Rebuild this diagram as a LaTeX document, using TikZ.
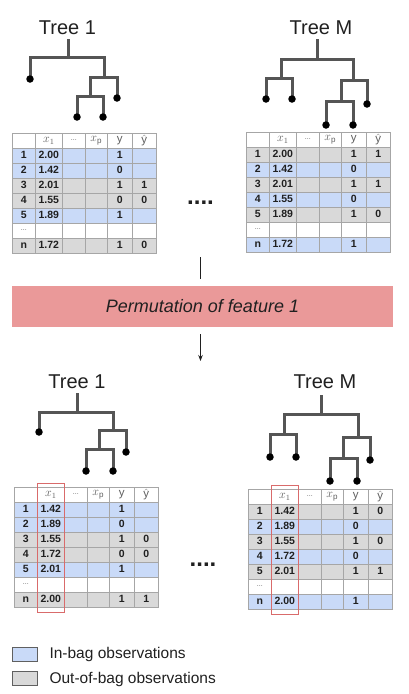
\documentclass[tikz,border=0pt]{standalone}
\usepackage{fontspec}
\setmainfont{Liberation Sans}
\usetikzlibrary{arrows.meta}
\definecolor{bluec}{HTML}{C9DAF8}
\definecolor{grayc}{HTML}{D9D9D9}
\definecolor{gridc}{HTML}{A6A6A6}
\definecolor{hdrc}{HTML}{606060}
\definecolor{treec}{HTML}{555555}
\definecolor{permc}{HTML}{EA9999}
\definecolor{redc}{HTML}{D96B6B}
\definecolor{txtc}{HTML}{202020}
\newcommand{\smdots}{{\mdseries\color{hdrc}\fontsize{7}{7}\selectfont ...}}
\tikzset{
  cell/.style={draw=gridc, line width=0.6pt, inner sep=0pt, anchor=north west,
    minimum height=15pt, font=\fontsize{10.5}{12}\selectfont\bfseries, text=txtc},
  hcell/.style={cell, minimum height=14.5pt, fill=white,
    font=\fontsize{11.5}{12}\selectfont, text=hdrc},
  treeline/.style={draw=treec, line width=3pt},
  leaf/.style={circle, fill=black, inner sep=0pt, minimum size=7.5pt},
  treetitle/.style={font=\fontsize{20}{24}\selectfont, text=txtc, anchor=base},
  bigdots/.style={font=\fontsize{24}{24}\selectfont\bfseries, text=txtc, anchor=base},
  redbox/.style={draw=redc, line width=0.9pt},
  legbox/.style={draw=hdrc, line width=0.8pt, minimum width=25pt, minimum height=14pt, inner sep=0pt},
  legtext/.style={anchor=base west, font=\fontsize{15.5}{18}\selectfont, text=txtc},
  conn/.style={draw=txtc, line width=0.8pt}
}
\newcommand{\obstable}[4]{%
  \begin{scope}[shift={(#2,#3)}]
    \node[hcell, minimum width=23pt] (#1-h-1) at (0,0) {};
    \node[hcell, minimum width=27pt] (#1-h-2) at (23,0) {$x_1$};
    \node[hcell, minimum width=23pt] (#1-h-3) at (50,0) {\smdots};
    \node[hcell, minimum width=22pt] (#1-h-4) at (73,0) {$x_{\mathrm{p}}$};
    \node[hcell, minimum width=25pt] (#1-h-5) at (95,0) {$\mathrm{y}$};
    \node[hcell, minimum width=24pt] (#1-h-6) at (120,0) {$\hat{\mathrm{y}}$};
    \foreach \rc/\ri/\xv/\yv/\yh [count=\r] in {#4} {
      \pgfmathsetmacro{\ty}{14.5+(\r-1)*15}
      \node[cell, fill=\rc, minimum width=23pt] (#1-\r-1) at (0,\ty) {\ri};
      \node[cell, fill=\rc, minimum width=27pt] (#1-\r-2) at (23,\ty) {\xv};
      \node[cell, fill=\rc, minimum width=23pt] (#1-\r-3) at (50,\ty) {};
      \node[cell, fill=\rc, minimum width=22pt] (#1-\r-4) at (73,\ty) {};
      \node[cell, fill=\rc, minimum width=25pt] (#1-\r-5) at (95,\ty) {\yv};
      \node[cell, fill=\rc, minimum width=24pt] (#1-\r-6) at (120,\ty) {\yh};
    }
  \end{scope}}
\begin{document}
\begin{tikzpicture}[x=1pt,y=-1pt]
\useasboundingbox (0,0) rectangle (408,694);

% ---------- titles ----------
\node[treetitle] (t1) at (67.5,34) {Tree 1};
\node[treetitle] (tM) at (321,34) {Tree M};
\node[treetitle] (b1) at (77,388) {Tree 1};
\node[treetitle] (bM) at (325,388) {Tree M};

% ---------- tree a (top left) ----------
\coordinate (ar) at (68,39); \coordinate (as) at (68,57);
\coordinate (an1) at (104,77); \coordinate (an2) at (90,96);
\coordinate (aA) at (30,79); \coordinate (aB) at (117,98);
\coordinate (aC) at (77,117); \coordinate (aD) at (103,117);
\draw[treeline] (ar) -- (as);
\draw[treeline] (aA) |- (an1 |- as) -- (an1);
\draw[treeline] (an2) |- (aB |- an1) -- (aB);
\draw[treeline] (aC) |- (aD |- an2) -- (aD);
\foreach \p in {aA,aB,aC,aD} \node[leaf] (\p-dot) at (\p) {};

% ---------- tree b (top right) ----------
\coordinate (br) at (317,39); \coordinate (bs) at (317,59);
\coordinate (bn1) at (281,78); \coordinate (bn2) at (353,80); \coordinate (bn3) at (341,101);
\coordinate (bA) at (266,99); \coordinate (bB) at (292,99); \coordinate (bC) at (367,104);
\coordinate (bD) at (326,125); \coordinate (bE) at (353,125);
\draw[treeline] (br) -- (bs);
\draw[treeline] (bn1) |- (bn2 |- bs) -- (bn2);
\draw[treeline] (bA) |- (bB |- bn1) -- (bB);
\draw[treeline] (bn3) |- (bC |- bn2) -- (bC);
\draw[treeline] (bD) |- (bE |- bn3) -- (bE);
\foreach \p in {bA,bB,bC,bD,bE} \node[leaf] (\p-dot) at (\p) {};

% ---------- tree c (bottom left) ----------
\coordinate (cr) at (77,393); \coordinate (cs) at (77,412);
\coordinate (cn1) at (113,430); \coordinate (cn2) at (99,449);
\coordinate (cA) at (39,432); \coordinate (cB) at (126,452);
\coordinate (cC) at (86,471); \coordinate (cD) at (113,471);
\draw[treeline] (cr) -- (cs);
\draw[treeline] (cA) |- (cn1 |- cs) -- (cn1);
\draw[treeline] (cn2) |- (cB |- cn1) -- (cB);
\draw[treeline] (cC) |- (cD |- cn2) -- (cD);
\foreach \p in {cA,cB,cC,cD} \node[leaf] (\p-dot) at (\p) {};

% ---------- tree d (bottom right) ----------
\coordinate (dr) at (321,395); \coordinate (ds) at (321,414);
\coordinate (dn1) at (284,434); \coordinate (dn2) at (358,437); \coordinate (dn3) at (343,458);
\coordinate (dA) at (270,457); \coordinate (dB) at (296,457); \coordinate (dC) at (370,460);
\coordinate (dD) at (330,481); \coordinate (dE) at (357,481);
\draw[treeline] (dr) -- (ds);
\draw[treeline] (dn1) |- (dn2 |- ds) -- (dn2);
\draw[treeline] (dA) |- (dB |- dn1) -- (dB);
\draw[treeline] (dn3) |- (dC |- dn2) -- (dC);
\draw[treeline] (dD) |- (dE |- dn3) -- (dE);
\foreach \p in {dA,dB,dC,dD,dE} \node[leaf] (\p-dot) at (\p) {};

% ---------- tables ----------
\obstable{TL}{12}{133}{bluec/1/2.00/1/{}, bluec/2/1.42/0/{}, grayc/3/2.01/1/1, grayc/4/1.55/0/0, bluec/5/1.89/1/{}, white/\smdots/{}/{}/{}, grayc/n/1.72/1/0}
\obstable{TR}{246}{132}{grayc/1/2.00/1/1, bluec/2/1.42/0/{}, grayc/3/2.01/1/1, bluec/4/1.55/0/{}, grayc/5/1.89/1/0, white/\smdots/{}/{}/{}, bluec/n/1.72/1/{}}
\obstable{BL}{14}{487}{bluec/1/1.42/1/{}, bluec/2/1.89/0/{}, grayc/3/1.55/1/0, grayc/4/1.72/0/0, bluec/5/2.01/1/{}, white/\smdots/{}/{}/{}, grayc/n/2.00/1/1}
\obstable{BR}{248}{489}{grayc/1/1.42/1/0, bluec/2/1.89/0/{}, grayc/3/1.55/1/0, bluec/4/1.72/0/{}, grayc/5/2.01/1/1, white/\smdots/{}/{}/{}, bluec/n/2.00/1/{}}

\draw[redbox] ([yshift=4pt]BL-h-2.north west) rectangle ([yshift=-5.5pt]BL-7-2.south east);
\draw[redbox] ([yshift=4pt]BR-h-2.north west) rectangle ([yshift=-5.5pt]BR-7-2.south east);

% ---------- ellipses between tables ----------
\node[bigdots] (dots1) at (200.5,204) {....};
\node[bigdots] (dots2) at (203,566.5) {....};

% ---------- permutation band ----------
\node[fill=permc, minimum width=381pt, minimum height=41pt, inner sep=0pt,
      font=\fontsize{18}{22}\selectfont\itshape, text=txtc] (perm) at (202.5,306.5) {Permutation of feature 1};
\coordinate (upc) at (200.5,257);
\coordinate (dnc) at (200.5,361);
\draw[conn, shorten >=7pt] (upc) -- (upc |- perm.north);
\draw[conn, shorten <=7pt, -{Stealth[length=6pt,width=4.5pt]}] (dnc |- perm.south) -- (dnc);

% ---------- legend ----------
\node[legbox, fill=bluec] (leg1) at (24.5,654) {};
\node[legtext] (leg1t) at (46,658) {In-bag observations};
\node[legbox, fill=grayc] (leg2) at (24.5,678) {};
\node[legtext] (leg2t) at (46,683) {Out-of-bag observations};
\end{tikzpicture}
\end{document}
